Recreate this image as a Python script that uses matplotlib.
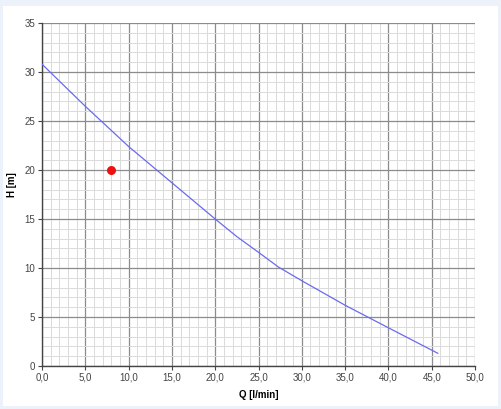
import matplotlib
matplotlib.use('Agg')

import matplotlib.pyplot as plt
from matplotlib.patches import Rectangle
from matplotlib.ticker import MultipleLocator, FuncFormatter

plt.rcParams['font.family'] = ['Liberation Sans', 'DejaVu Sans']

# -------------------------
# Data
# -------------------------
q_curve = [0.0, 5.0, 10.0, 15.0, 20.0, 22.5, 25.0, 27.3, 30.0, 35.0, 40.0, 45.7]
h_curve = [30.8, 26.5, 22.4, 18.7, 15.0, 13.2, 11.6, 10.1, 8.7, 6.2, 3.9, 1.3]

q_point = [8.0]
h_point = [20.0]

x_ticks = [0, 5, 10, 15, 20, 25, 30, 35, 40, 45, 50]
y_ticks = [0, 5, 10, 15, 20, 25, 30, 35]

# -------------------------
# Plot
# -------------------------
fig = plt.figure(figsize=(5.01, 4.09), dpi=100)
fig.patch.set_facecolor('#edf2fa')
panel = Rectangle((3 / 501, 1 - 406 / 409), 495 / 501, 400 / 409,
                  transform=fig.transFigure, facecolor='white',
                  edgecolor='none', zorder=-10)
fig.add_artist(panel)

ax = fig.add_axes([42 / 501, 1 - 366 / 409, 433 / 501, 343 / 409])
ax.set_zorder(1)
ax.set_facecolor('white')

ax.plot(q_curve, h_curve, color='#6a6af0', linewidth=0.9, zorder=3)
ax.scatter(q_point, h_point, s=30, color='#ee1111', zorder=4)

ax.set_xlim(0, 50)
ax.set_ylim(0, 35)
ax.set_xticks(x_ticks)
ax.set_yticks(y_ticks)
ax.xaxis.set_minor_locator(MultipleLocator(1))
ax.yaxis.set_minor_locator(MultipleLocator(1))
ax.xaxis.set_major_formatter(FuncFormatter(lambda v, p: f"{v:.1f}".replace('.', ',')))

ax.grid(which='major', color='#8c8c8c', linewidth=0.9)
ax.grid(which='minor', color='#dadada', linewidth=0.7)
ax.set_axisbelow(True)

for side in ['top', 'right']:
    ax.spines[side].set_visible(False)
for side in ['left', 'bottom']:
    ax.spines[side].set_color('#444444')
    ax.spines[side].set_linewidth(1.0)

ax.tick_params(which='major', length=3, color='#444444', labelsize=7,
               labelcolor='#444444', pad=2)
ax.tick_params(which='minor', length=0)

ax.set_xlabel("Q [l/min]", fontsize=7, fontweight='bold')
ax.set_ylabel("H [m]", fontsize=7, fontweight='bold')
ax.xaxis.set_label_coords(0.5, -0.085)
ax.yaxis.set_label_coords(-0.069, 0.528)
ax.xaxis.label.set_verticalalignment('center')
ax.yaxis.label.set_verticalalignment('center')

plt.savefig("out.png", dpi=100)
